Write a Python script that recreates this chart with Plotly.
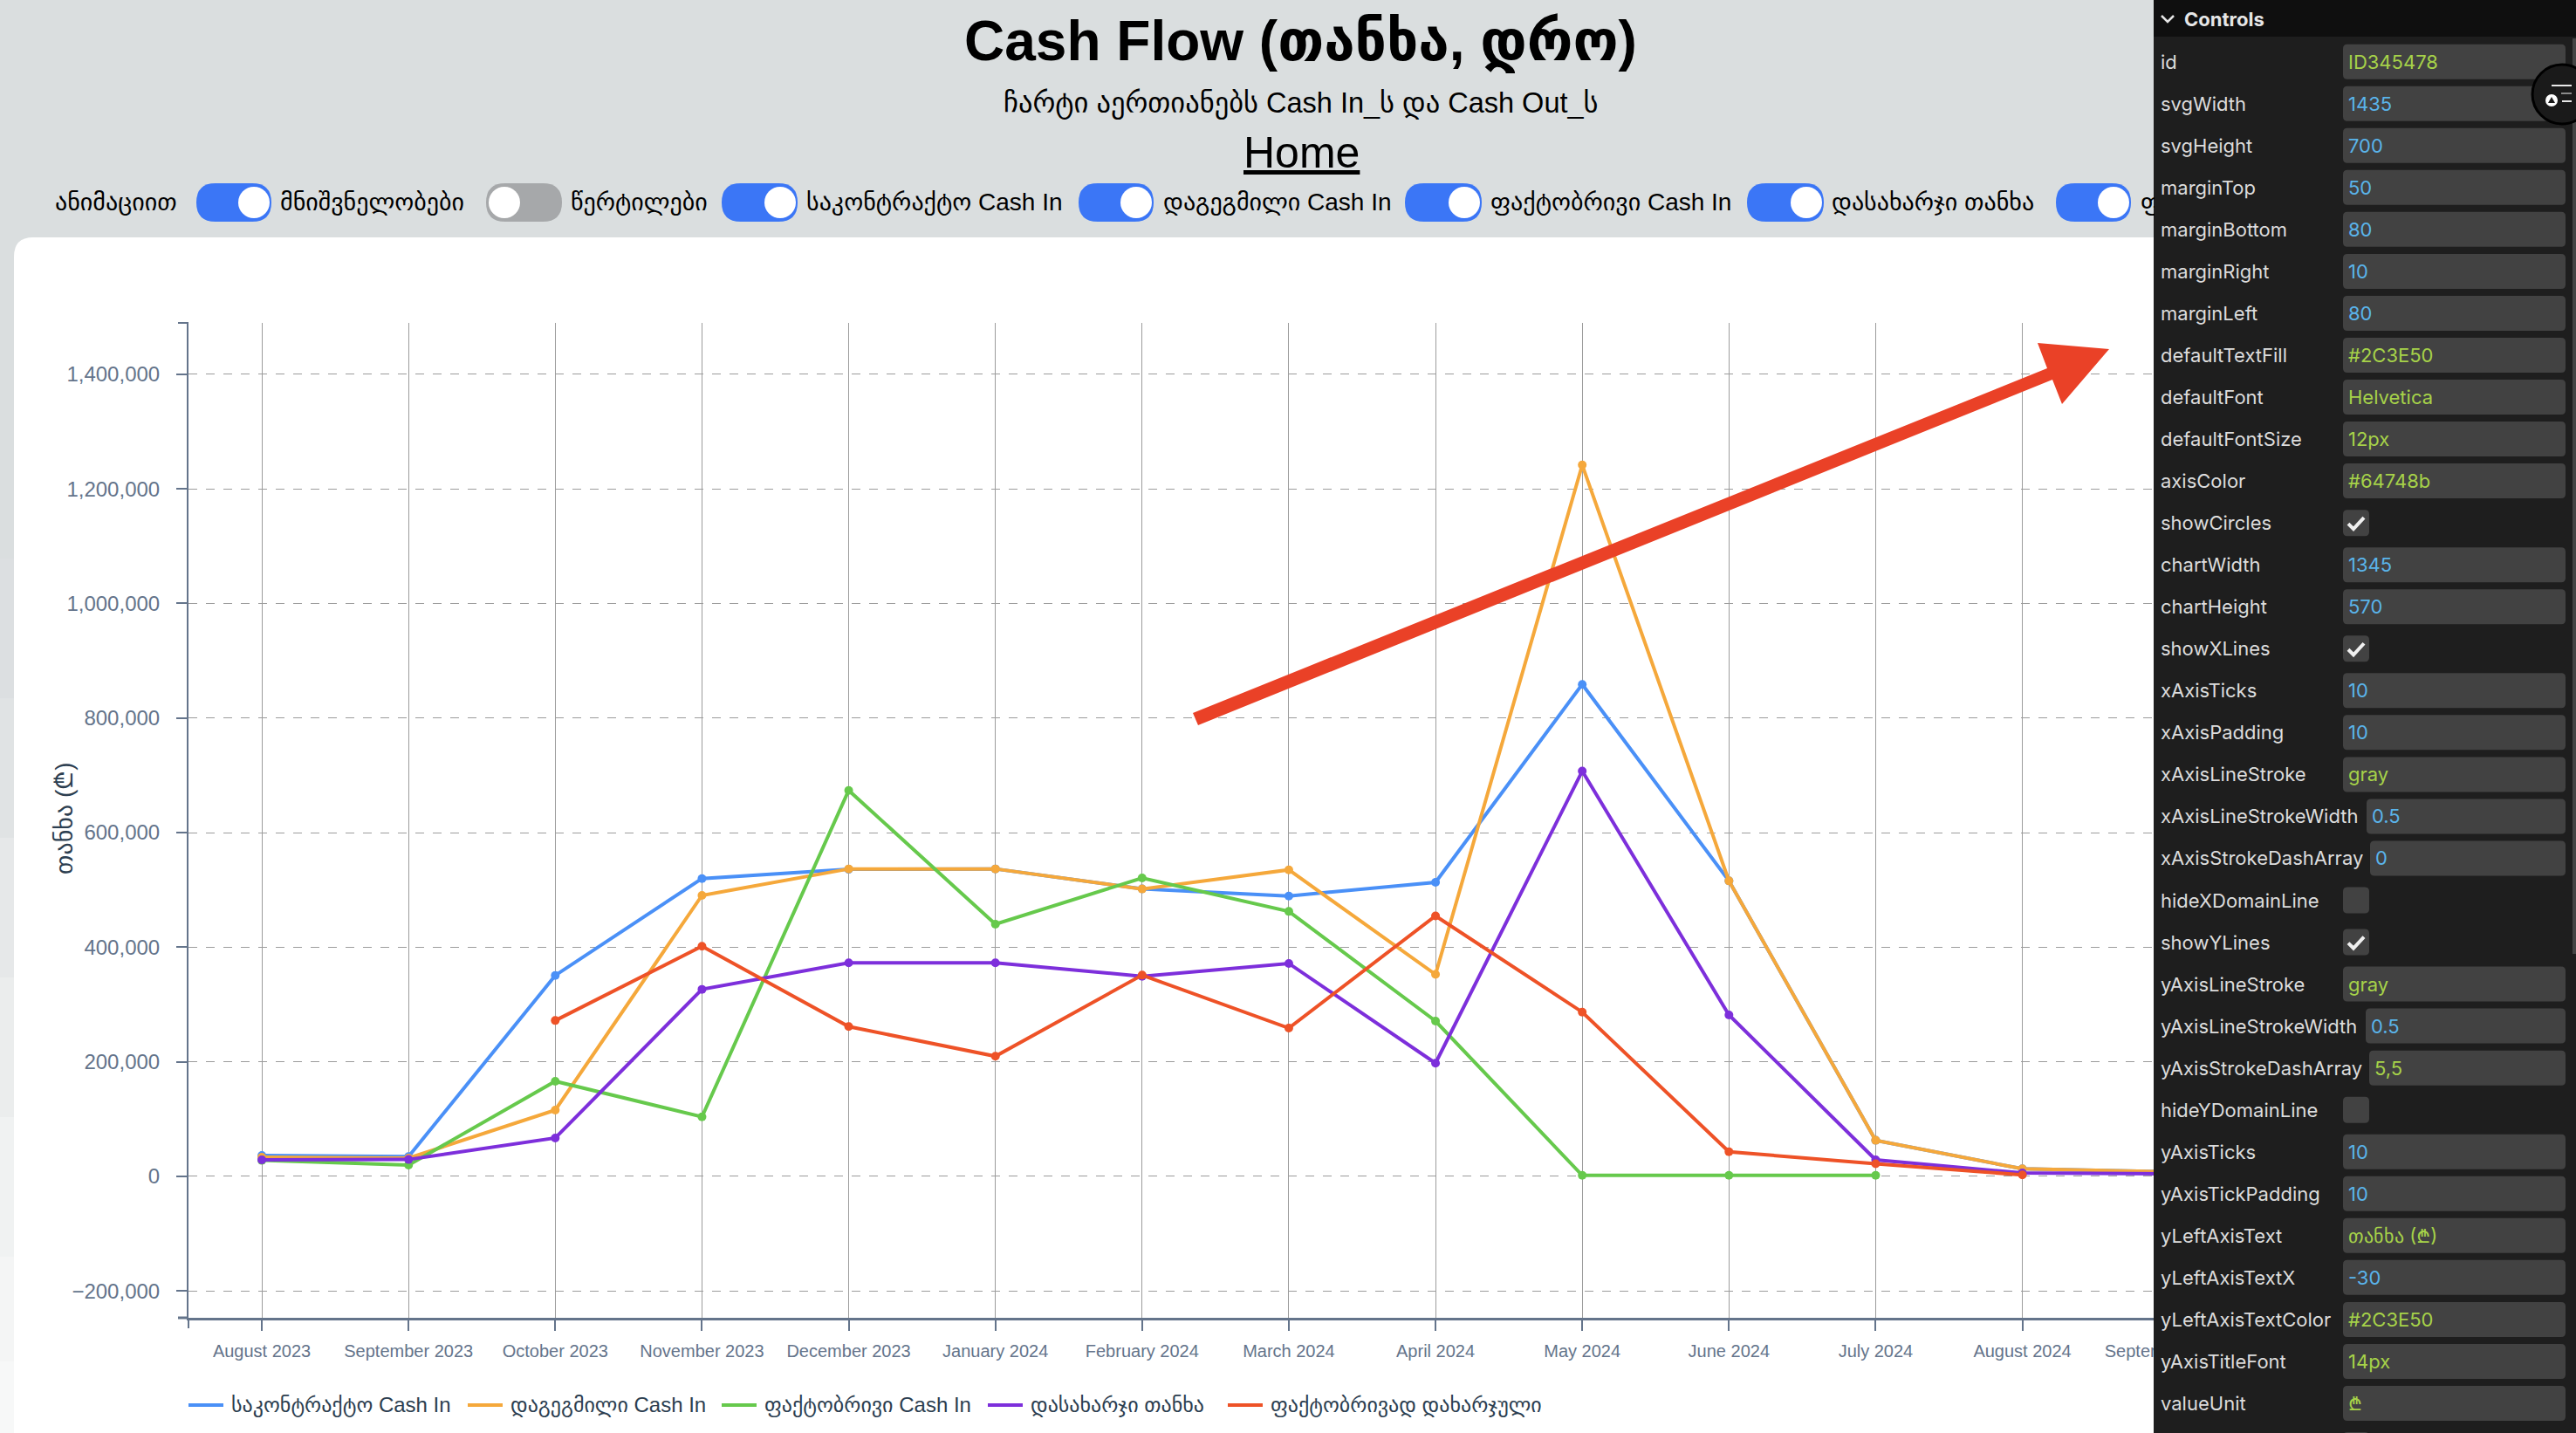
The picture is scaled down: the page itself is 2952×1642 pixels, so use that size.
import plotly.graph_objects as go

WIDTH = 2952
HEIGHT = 1642

# chart data
months = ['August 2023', 'September 2023', 'October 2023', 'November 2023', 'December 2023',
          'January 2024', 'February 2024', 'March 2024', 'April 2024', 'May 2024', 'June 2024',
          'July 2024', 'August 2024', 'September 2024', 'October 2024', 'November 2024']
contract_in = [36600, 34500, 350800, 519900, 536000, 536700, 502000, 489400, 513300, 858800,
               515800, 63000, 13200, 7900]
planned_in = [33500, 32000, 115800, 490500, 536700, 536700, 501700, 535100, 352500, 1241700,
              515800, 63000, 13200, 7900]
actual_in = [28000, 19800, 166000, 104000, 673700, 440200, 520900, 462500, 271100, 1800,
             1800, 1800]
to_spend = [28900, 29500, 67000, 326500, 372700, 372700, 349300, 371700, 197700, 707400,
            281800, 28900, 6000, 4500]
actual_spent = [None, None, 272100, 401600, 261500, 209700, 351300, 258900, 454700, 286800,
                43000, 22000, 2600]

series_names = ['საკონტრაქტო Cash In', 'დაგეგმილი Cash In', 'ფაქტობრივი Cash In',
                'დასახარჯი თანხა', 'ფაქტობრივად დახარჯული']
series_values = [contract_in, planned_in, actual_in, to_spend, actual_spent]
series_colors = ['#4a90f7', '#f5a83b', '#66c94c', '#7d2fdb', '#ee5227']

y_ticks = [-200000, 0, 200000, 400000, 600000, 800000, 1000000, 1200000, 1400000]

# toggle row on top of the card
toggle_labels = ['ანიმაციით', 'მნიშვნელობები', 'წერტილები', 'საკონტრაქტო Cash In',
                 'დაგეგმილი Cash In', 'ფაქტობრივი Cash In', 'დასახარჯი თანხა',
                 'ფაქტობრივად დახარჯული']
toggle_states = [True, False, True, True, True, True, True]

# leva control panel
control_labels = ['id', 'svgWidth', 'svgHeight', 'marginTop', 'marginBottom', 'marginRight',
                  'marginLeft', 'defaultTextFill', 'defaultFont', 'defaultFontSize', 'axisColor',
                  'showCircles', 'chartWidth', 'chartHeight', 'showXLines', 'xAxisTicks',
                  'xAxisPadding', 'xAxisLineStroke', 'xAxisLineStrokeWidth',
                  'xAxisStrokeDashArray', 'hideXDomainLine', 'showYLines', 'yAxisLineStroke',
                  'yAxisLineStrokeWidth', 'yAxisStrokeDashArray', 'hideYDomainLine', 'yAxisTicks',
                  'yAxisTickPadding', 'yLeftAxisText', 'yLeftAxisTextX', 'yLeftAxisTextColor',
                  'yAxisTitleFont', 'valueUnit']
control_values = ['ID345478', 1435, 700, 50, 80, 10, 80, '#2C3E50', 'Helvetica', '12px', '#64748b',
                  True, 1345, 570, True, 10, 10, 'gray', 0.5, 0, False, True, 'gray', 0.5, '5,5',
                  False, 10, 10, 'თანხა (₾)', -30, '#2C3E50', '14px', '₾']

SANS = 'Liberation Sans, DejaVu Sans'
PANEL_FONT = 'Inter, Roboto'
TEXT = '#2C3E50'
AXIS = '#64748b'


def px(x):
    return x / WIDTH


def py(y):
    return 1 - y / HEIGHT


def rect(x0, y0, x1, y1, color):
    return dict(type='rect', xref='paper', yref='paper', layer='above', x0=px(x0), x1=px(x1),
                y0=py(y0), y1=py(y1), fillcolor=color, line_width=0)


def line(x0, y0, x1, y1, color, width):
    return dict(type='line', xref='paper', yref='paper', layer='above', x0=px(x0), x1=px(x1),
                y0=py(y0), y1=py(y1), line=dict(color=color, width=width))


def circle(cx, cy, r, color, edge=None, edge_width=0):
    return dict(type='circle', xref='paper', yref='paper', layer='above', x0=px(cx - r),
                x1=px(cx + r), y0=py(cy - r), y1=py(cy + r), fillcolor=color,
                line=dict(color=edge, width=edge_width))


def poly(points, fill=None, stroke=None, width=0, close=True):
    path = 'M ' + ' L '.join(f'{px(x):.6f},{py(y):.6f}' for x, y in points)
    if close:
        path += ' Z'
    return dict(type='path', xref='paper', yref='paper', layer='above', path=path,
                fillcolor=fill if fill else 'rgba(0,0,0,0)',
                line=dict(color=stroke, width=width))


def round_rect(x0, y0, x1, y1, r, color):
    # rounded box drawn as a path, the corners are quadratic curves
    p = lambda x, y: f'{px(x):.6f},{py(y):.6f}'
    path = (f'M {p(x0 + r, y0)} L {p(x1 - r, y0)} Q {p(x1, y0)} {p(x1, y0 + r)} '
            f'L {p(x1, y1 - r)} Q {p(x1, y1)} {p(x1 - r, y1)} L {p(x0 + r, y1)} '
            f'Q {p(x0, y1)} {p(x0, y1 - r)} L {p(x0, y0 + r)} Q {p(x0, y0)} {p(x0 + r, y0)} Z')
    return dict(type='path', xref='paper', yref='paper', layer='above', path=path,
                fillcolor=color, line_width=0)


def label(x, y, text, size, color='black', anchor='left', font=SANS, **kwargs):
    return dict(xref='paper', yref='paper', x=px(x), y=py(y), text=text, showarrow=False,
                xanchor=anchor, yanchor='middle', align=anchor,
                font=dict(family=font, size=size, color=color), borderpad=0, **kwargs)


fig = go.Figure()

for name, values, color in zip(series_names, series_values, series_colors):
    fig.add_trace(go.Scatter(x=months[:len(values)], y=values, name=name, mode='lines+markers',
                             line=dict(color=color, width=4), marker=dict(color=color, size=10),
                             showlegend=False, cliponaxis=True))

shapes = []
annotations = []

# page background, it fades out towards the bottom of the window
fig.update_layout(paper_bgcolor='#dadedf', plot_bgcolor='rgba(0,0,0,0)')
fade = [(640, '#dcdfe1'), (800, '#e0e3e4'), (960, '#e6e8e9'), (1120, '#ebeded'),
        (1280, '#f0f2f2'), (1440, '#f4f5f5'), (1560, '#f7f8f8')]
for i, (top, color) in enumerate(fade):
    bottom = fade[i + 1][0] if i + 1 < len(fade) else HEIGHT
    shapes.append(dict(rect(0, top, 16, bottom, color), layer='below'))
# white card
shapes.append(dict(round_rect(16, 272, 2600, 1700, 22, 'white'), layer='below'))

# outer ticks of the d3 style axes
shapes.append(line(204, 370, 216, 370, AXIS, 2))
shapes.append(line(204, 1510, 216, 1510, AXIS, 3))
shapes.append(line(216, 1510, 216, 1522, AXIS, 2))

# legend under the chart
legend_swatch_x = [216, 536, 827, 1132, 1407]
for name, color, x in zip(series_names, series_colors, legend_swatch_x):
    shapes.append(line(x, 1610, x + 40, 1610, color, 4))
    annotations.append(label(x + 48, 1610, name, 24, TEXT))

# y title sits at a fixed offset from the axis
annotations.append(label(73, 938, 'თანხა (₾)', 28, TEXT, anchor='center', textangle=-90))

# arrow pasted on the screenshot
shapes.append(poly([(1367, 817), (2346, 422), (2335, 393), (2417, 400), (2363, 463), (2352, 435),
                    (1373, 831)], fill='#ea4127'))

# header
annotations.append(label(1490, 47, '<b>Cash Flow (თანხა, დრო)</b>', 64, anchor='center'))
annotations.append(label(1491, 118, 'ჩარტი აერთიანებს Cash In_ს და Cash Out_ს', 32.5, anchor='center'))
annotations.append(label(1491, 175, '<u>Home</u>', 50, anchor='center'))

# toggles
toggle_x = [225, 557, 827, 1236, 1610, 2002, 2356]
toggle_width = [86, 87, 87, 86, 88, 88, 86]
for x, w, on in zip(toggle_x, toggle_width, toggle_states):
    shapes.append(round_rect(x, 210, x + w, 254, 22, '#3b76f6' if on else '#a6a8aa'))
    shapes.append(circle(x + w - 20 if on else x + 21, 232, 18, 'white'))
label_x = [62, 320, 653, 923, 1332, 1707, 2098]
for x, text in zip(label_x, toggle_labels):
    annotations.append(label(x, 232, text, 28))
# last label runs under the panel, the box width clips it
annotations.append(label(2452, 232, toggle_labels[-1], 28, width=16))

# control panel
shapes.append(rect(2468, 0, WIDTH, HEIGHT, '#1e1e1e'))
shapes.append(rect(2468, 0, WIDTH, 42, '#0f0f0f'))
shapes.append(rect(2948, 44, WIDTH, 1093, '#444444'))
shapes.append(poly([(2477, 18), (2484, 25), (2491, 18)], stroke='#e6e6e6', width=2.5, close=False))
annotations.append(label(2502, 22, '<b>Controls</b>', 22, '#e6e6e6', font=PANEL_FONT))

box_left = {'xAxisLineStrokeWidth': 2712, 'xAxisStrokeDashArray': 2716,
            'yAxisLineStrokeWidth': 2711, 'yAxisStrokeDashArray': 2715}
for i, (name, value) in enumerate(zip(control_labels, control_values)):
    y = 70.7 + 48.04 * i
    annotations.append(label(2475, y, name, 22, '#dcdcdc', font=PANEL_FONT))
    if isinstance(value, bool):
        shapes.append(round_rect(2685, y - 15, 2715, y + 15, 5, '#424242'))
        if value:
            shapes.append(poly([(2691, y + 1), (2697, y + 7), (2709, y - 6)], stroke='#f0f0f0',
                               width=4, close=False))
    else:
        left = box_left.get(name, 2685)
        shapes.append(round_rect(left, y - 20, 2940, y + 20, 5, '#424242'))
        color = '#5ab4ea' if isinstance(value, (int, float)) else '#a6d249'
        annotations.append(label(left + 5, y, str(value), 22, color, font=PANEL_FONT))
shapes.append(round_rect(2685, 1641, 2715, 1660, 5, '#424242'))

# floating button top right
shapes.append(circle(2936, 108, 34, '#1a1a1a', '#000000', 3))
shapes.append(line(2924, 98, 2947, 98, '#e8e8e8', 2))
shapes.append(line(2935, 107, 2947, 107, '#8a8a8a', 2))
shapes.append(line(2936, 116, 2947, 116, '#e8e8e8', 2))
shapes.append(circle(2924, 115, 7, 'white'))
shapes.append(poly([(2920, 118), (2924, 111), (2928, 118)], fill='#1a1a1a'))

fig.update_layout(
    width=WIDTH, height=HEIGHT, autosize=False,
    margin=dict(l=0, r=0, t=0, b=0),
    font=dict(family=SANS, color=AXIS),
    shapes=shapes,
    annotations=annotations,
    xaxis=dict(
        domain=[px(216), px(2906)],
        type='category', categoryorder='array', categoryarray=months,
        range=[-0.5, 15.5],
        tickmode='array', tickvals=months, ticktext=months,
        tickfont=dict(size=20, color=AXIS),
        ticks='outside', ticklen=12, tickwidth=2, tickcolor=AXIS, ticklabelstandoff=6,
        showline=True, linecolor=AXIS, linewidth=3,
        showgrid=True, gridcolor='#9c9c9c', gridwidth=1,
        zeroline=False,
    ),
    yaxis=dict(
        domain=[py(1510), py(370)],
        range=[-246800, 1489700],
        tickmode='array', tickvals=y_ticks, tickformat=',d',
        tickfont=dict(size=24, color=AXIS),
        ticks='outside', ticklen=12, tickwidth=2, tickcolor=AXIS, ticklabelstandoff=14,
        showline=True, linecolor=AXIS, linewidth=2,
        showgrid=True, gridcolor='#9c9c9c', gridwidth=1, griddash='10px,10px',
        zeroline=False,
    ),
)

# the default body margin would push the page 8px off the window
fig.write_html("out.html", config=dict(displayModeBar=False),
               post_script="document.body.style.margin='0';")
